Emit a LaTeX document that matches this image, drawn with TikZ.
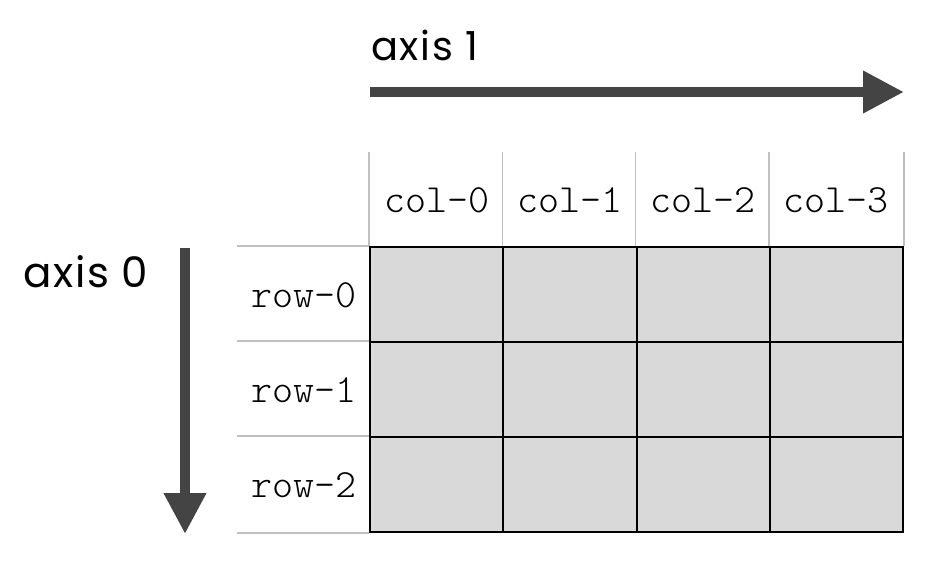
\documentclass[tikz,border=0pt]{standalone}
\usepackage{fontspec}
\setmainfont{Poppins}
\setmonofont{Latin Modern Mono Light}
\newfontfamily\axisfont[LetterSpace=4]{Poppins}
\usepackage{tikz}
\usetikzlibrary{arrows.meta}
\usetikzlibrary{positioning}

\definecolor{axisgray}{HTML}{444444}
\definecolor{cellgray}{HTML}{D9D9D9}
\definecolor{rulegray}{HTML}{C0C0C0}

\tikzset{
	cell/.style={draw=black, line width=2pt, fill=cellgray, minimum width=133.25pt, minimum height=95pt, inner sep=0pt},
	tablabel/.style={inner sep=0pt, anchor=base, font=\ttfamily\fontsize{40}{40}\selectfont},
	axislabel/.style={inner sep=0pt, anchor=base west},
	axisarrow/.style={draw=axisgray, line width=10pt, -{Triangle[length=41pt, width=40pt]}},
	rule/.style={draw=rulegray, line width=1.5pt}
}

\begin{document}
\begin{tikzpicture}[x=1pt, y=-1pt]
		\useasboundingbox (0,0) rectangle (944,576);
		
		\coordinate (htop) at (0,152);
		\coordinate (lleft) at (237,0);
		
		\node[cell] (a00) at (436.625,294.5) {};
		\node[cell] (a01) at (569.875,294.5) {};
		\node[cell] (a02) at (703.125,294.5) {};
		\node[cell] (a03) at (836.375,294.5) {};
		\node[cell] (a10) at (436.625,389.5) {};
		\node[cell] (a11) at (569.875,389.5) {};
		\node[cell] (a12) at (703.125,389.5) {};
		\node[cell] (a13) at (836.375,389.5) {};
		\node[cell] (a20) at (436.625,484.5) {};
		\node[cell] (a21) at (569.875,484.5) {};
		\node[cell] (a22) at (703.125,484.5) {};
		\node[cell] (a23) at (836.375,484.5) {};
		
		% header and row rules
		\draw[rule] (a00.north west) -- (a00.north west |- htop);
		\draw[rule] (a01.north west) -- (a01.north west |- htop);
		\draw[rule] (a02.north west) -- (a02.north west |- htop);
		\draw[rule] (a03.north west) -- (a03.north west |- htop);
		\draw[rule] (a03.north east) -- (a03.north east |- htop);
		\draw[rule] (a00.north west) -- (a00.north west -| lleft);
		\draw[rule] (a10.north west) -- (a10.north west -| lleft);
		\draw[rule] (a20.north west) -- (a20.north west -| lleft);
		\draw[rule] (a20.south west) -- (a20.south west -| lleft);
		
		\node[tablabel] (col0) at (436.625,212) {col-0};
		\node[tablabel] (col1) at (569.875,212) {col-1};
		\node[tablabel] (col2) at (703.125,212) {col-2};
		\node[tablabel] (col3) at (836.375,212) {col-3};
		\node[tablabel] (row0) at (303.5,307) {row-0};
		\node[tablabel] (row1) at (303.5,402) {row-1};
		\node[tablabel] (row2) at (303.5,497) {row-2};
		
		\node[axislabel, font=\axisfont\fontsize{40}{40}\selectfont] (ax1) at (371,60) {axis 1};
		\node[axislabel, font=\axisfont\fontsize{42}{42}\selectfont] (ax0) at (23,287) {axis 0};
		
		\coordinate (ax1start) at (370,92);
		\coordinate (ax1end) at (904,92);
		\coordinate (ax0start) at (185,248);
		\coordinate (ax0end) at (185,534);
		
		\draw[axisarrow] (ax1start) -- (ax1end);
		\draw[axisarrow] (ax0start) -- (ax0end);
		\end{tikzpicture}
\end{document}
